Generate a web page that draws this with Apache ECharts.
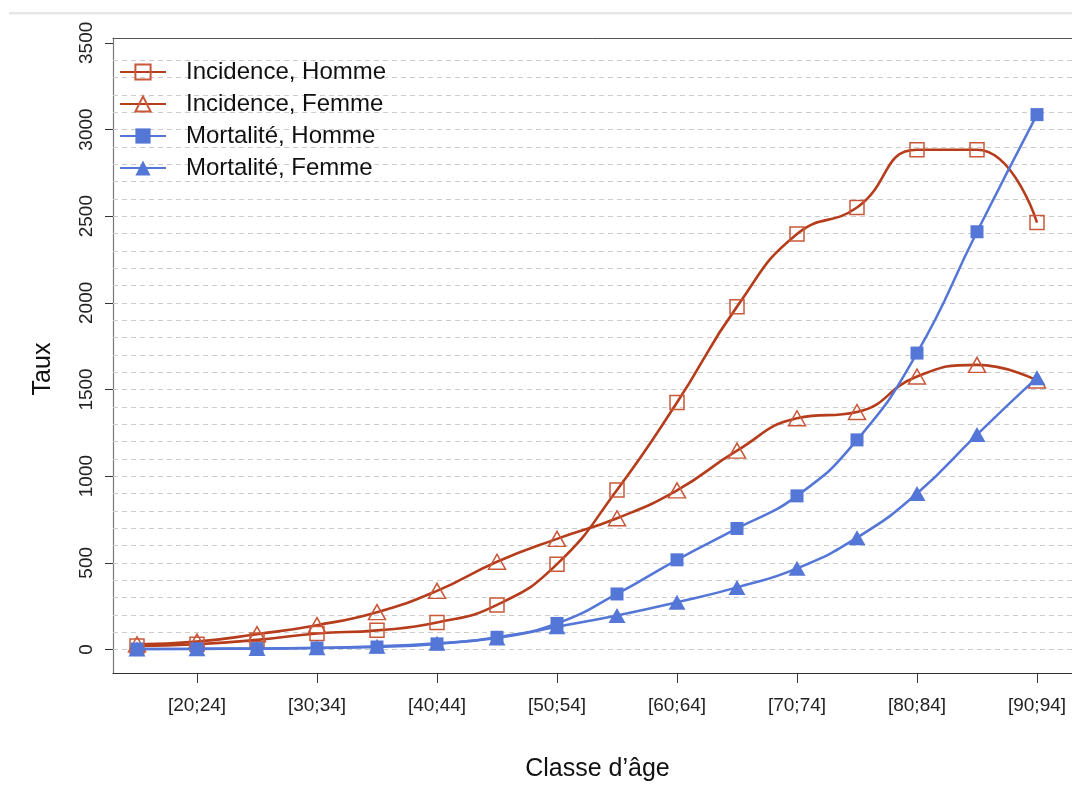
<!DOCTYPE html>
<html>
<head>
<meta charset="utf-8">
<script src="https://cdn.jsdelivr.net/npm/echarts@6/dist/echarts.min.js"></script>
<style>
  html, body { margin: 0; padding: 0; background: #ffffff; }
  #chart { width: 1072px; height: 793px; }
</style>
</head>
<body>
<div id="chart"></div>
<script>
// Age classes (x axis)
const categories = ['[15;19]', '[20;24]', '[25;29]', '[30;34]', '[35;39]', '[40;44]', '[45;49]', '[50;54]',
                    '[55;59]', '[60;64]', '[65;69]', '[70;74]', '[75;79]', '[80;84]', '[85;89]', '[90;94]'];

// Rates per age class
const incidenceHomme = [20, 30, 55, 92, 110, 155, 257, 492, 920, 1425, 1978, 2397, 2550, 2883, 2883, 2463];
const incidenceFemme = [30, 45, 88, 140, 215, 338, 506, 638, 757, 918, 1147, 1334, 1370, 1575, 1642, 1552];
const mortaliteHomme = [2, 3, 4, 8, 14, 32, 70, 150, 320, 517, 698, 886, 1209, 1710, 2410, 3086];
const mortaliteFemme = [3, 4, 6, 10, 18, 36, 66, 131, 196, 272, 358, 468, 645, 900, 1240, 1568];

// Axis ticks
const yTickValues = [0, 500, 1000, 1500, 2000, 2500, 3000, 3500];
const xTickPositions = [2, 4, 6, 8, 10, 12, 14, 16];
const gridValues = [];
for (let v = 0; v <= 3400; v += 100) gridValues.push(v);

const FONT = "'Liberation Sans', Arial, Helvetica, sans-serif";
const RED_LINE = '#b63d1b';
const RED_MARK = '#c9583a';
const BLUE = '#5476d6';

const toPoints = arr => arr.map((v, i) => [i + 1, v]);

const chart = echarts.init(document.getElementById('chart'), null, { renderer: 'canvas' });

// plot area runs past the right edge of the canvas: 60 px per age class
const xMin = 0.6, xMax = 16.75;

chart.setOption({
  backgroundColor: '#ffffff',
  animation: false,
  textStyle: { fontFamily: FONT },
  grid: { left: 113, top: 38, width: 969, height: 635, show: false, outerBoundsMode: 'none' },
  xAxis: [
    {
      type: 'value',
      min: xMin, max: xMax,
      name: 'Classe d\u2019\u00e2ge',
      nameLocation: 'middle',
      nameGap: 84,
      nameTextStyle: { fontSize: 25, color: '#111111', fontFamily: FONT },
      axisLine: { show: true, onZero: false, lineStyle: { color: '#333333', width: 1.2 } },
      axisTick: { show: true, customValues: xTickPositions, length: 10, lineStyle: { color: '#333333' } },
      axisLabel: {
        show: true, customValues: xTickPositions, margin: 23,
        fontSize: 19, color: '#222222', fontFamily: FONT,
        formatter: v => categories[Math.round(v) - 1]
      },
      splitLine: { show: false }
    },
    {
      // top frame line
      type: 'value', position: 'top',
      min: xMin, max: xMax,
      axisLine: { show: true, onZero: false, lineStyle: { color: '#555555', width: 1 } },
      axisTick: { show: false }, axisLabel: { show: false }, splitLine: { show: false }
    }
  ],
  yAxis: {
    type: 'value',
    min: -136, max: 3528,
    axisLine: { show: true, onZero: false, lineStyle: { color: '#777777', width: 1.2 } },
    axisTick: { show: true, customValues: yTickValues, length: 8, lineStyle: { color: '#333333' } },
    axisLabel: {
      show: true, customValues: yTickValues, rotate: 90, margin: 17,
      fontSize: 19, color: '#222222', fontFamily: FONT,
      formatter: v => String(v)
    },
    splitLine: { show: false }
  },
  legend: {
    orient: 'vertical',
    left: 114, top: 55,
    itemWidth: 46, itemHeight: 19, itemGap: 8,
    data: ['Incidence, Homme', 'Incidence, Femme', 'Mortalit\u00e9, Homme', 'Mortalit\u00e9, Femme'],
    textStyle: { fontSize: 24, color: '#111111', fontFamily: FONT, lineHeight: 24, padding: [0, 0, 0, 15] }
  },
  graphic: [
    { type: 'rect', shape: { x: 9, y: 12, width: 1063, height: 2.5 }, style: { fill: '#e6e6e6' }, silent: true },
    {
      type: 'text', x: 43, y: 369, rotation: Math.PI / 2,
      style: { text: 'Taux', fontSize: 25, fill: '#111111', fontFamily: FONT, align: 'center', verticalAlign: 'middle' },
      silent: true
    }
  ],
  series: [
    {
      // carrier for the dashed horizontal guide lines (one invisible anchor point)
      name: 'grille', type: 'line', data: [[1, 0]], silent: true, z: 1,
      showSymbol: false, symbol: 'none',
      lineStyle: { width: 0, opacity: 0 },
      markLine: {
        silent: true, z: 1, symbol: ['none', 'none'], label: { show: false },
        lineStyle: { type: [5, 4], color: '#cccccc', width: 1 },
        emphasis: { disabled: true },
        data: gridValues.map(v => ({ yAxis: v }))
      }
    },
    {
      name: 'Incidence, Homme', type: 'line', z: 3,
      data: toPoints(incidenceHomme),
      smooth: 0.5,
      symbol: 'rect', symbolSize: 14,
      itemStyle: { color: 'rgba(255,255,255,0)', borderColor: RED_MARK, borderWidth: 1.5 },
      lineStyle: { color: RED_LINE, width: 2.6 }
    },
    {
      name: 'Incidence, Femme', type: 'line', z: 3,
      data: toPoints(incidenceFemme),
      smooth: 0.5,
      symbol: 'triangle', symbolSize: [17, 15],
      itemStyle: { color: 'rgba(255,255,255,0)', borderColor: RED_MARK, borderWidth: 1.5 },
      lineStyle: { color: RED_LINE, width: 2.6 }
    },
    {
      name: 'Mortalit\u00e9, Homme', type: 'line', z: 4,
      data: toPoints(mortaliteHomme),
      smooth: 0.5,
      symbol: 'rect', symbolSize: 13,
      itemStyle: { color: BLUE },
      lineStyle: { color: BLUE, width: 2.5 }
    },
    {
      name: 'Mortalit\u00e9, Femme', type: 'line', z: 4,
      data: toPoints(mortaliteFemme),
      smooth: 0.5,
      symbol: 'triangle', symbolSize: [17, 15],
      itemStyle: { color: BLUE },
      lineStyle: { color: BLUE, width: 2.5 }
    }
  ]
});
</script>
</body>
</html>
